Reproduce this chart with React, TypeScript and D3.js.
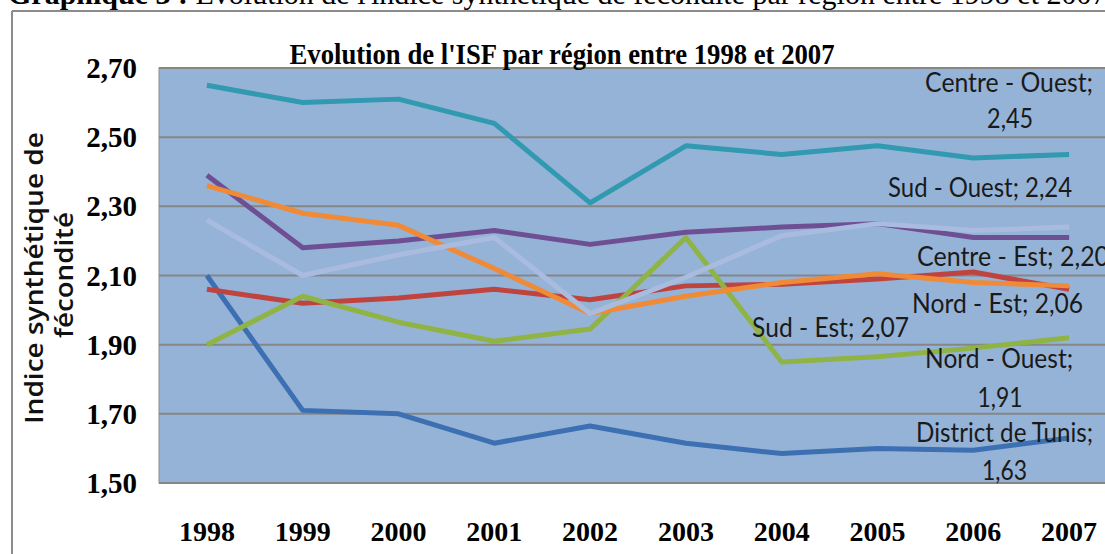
import * as d3 from "d3";
import React from "react";

// ISF by region, 1998-2007
const years = ["1998", "1999", "2000", "2001", "2002", "2003", "2004", "2005", "2006", "2007"];
const districtTunis = [2.1, 1.71, 1.7, 1.615, 1.665, 1.615, 1.585, 1.6, 1.595, 1.63];
const nordEst = [2.06, 2.02, 2.035, 2.06, 2.03, 2.07, 2.075, 2.09, 2.11, 2.06];
const nordOuest = [1.9, 2.04, 1.965, 1.91, 1.945, 2.21, 1.85, 1.865, 1.89, 1.92];
const centreEst = [2.39, 2.18, 2.2, 2.23, 2.19, 2.225, 2.24, 2.25, 2.21, 2.21];
const centreOuest = [2.65, 2.6, 2.61, 2.54, 2.31, 2.475, 2.45, 2.475, 2.44, 2.45];
const sudEst = [2.36, 2.28, 2.245, 2.12, 1.99, 2.04, 2.08, 2.105, 2.08, 2.07];
const sudOuest = [2.26, 2.1, 2.16, 2.21, 1.99, 2.095, 2.215, 2.25, 2.23, 2.24];
const yTicks = [1.5, 1.7, 1.9, 2.1, 2.3, 2.5, 2.7];

const series = [
  { name: "District de Tunis", values: districtTunis, color: "#3d70b2" },
  { name: "Nord - Est", values: nordEst, color: "#bf4440" },
  { name: "Nord - Ouest", values: nordOuest, color: "#8fb445" },
  { name: "Centre - Est", values: centreEst, color: "#6f4f93" },
  { name: "Centre - Ouest", values: centreOuest, color: "#3199b0" },
  { name: "Sud - Est", values: sudEst, color: "#f08a36" },
  { name: "Sud - Ouest", values: sudOuest, color: "#a9bcdf" },
];

// data labels, anchored on the 2007 point of each series
const labels = [
  { s: 4, lines: [["Centre  - Ouest;", -60, -62, 168], ["2,45", -59, -26, 46]], anchor: "middle" },
  { s: 6, lines: [["Sud - Ouest; 2,24", 3, -30, 184]], anchor: "end" },
  { s: 3, lines: [["Centre  - Est; 2,20", -152, 28.5, 192]], anchor: "start" },
  { s: 1, lines: [["Nord  - Est; 2,06", -157, 24, 171]], anchor: "start" },
  { s: 5, lines: [["Sud  - Est; 2,07", -160, 51, 157]], anchor: "end" },
  { s: 2, lines: [["Nord  - Ouest;", -70, 30, 148], ["1,91", -69, 69, 45]], anchor: "middle" },
  { s: 0, lines: [["District de Tunis;", -64.5, 4, 177], ["1,63", -64.5, 42, 45]], anchor: "middle" },
];

const W = 1105;
const H = 554;
const plot = { left: 159, right: 1117, top: 68, bottom: 483 };

export default function App() {
  const x = d3
    .scalePoint<string>()
    .domain(years)
    .range([plot.left, plot.right])
    .padding(0.5);
  const y = d3.scaleLinear().domain([1.5, 2.7]).range([plot.bottom, plot.top]);
  const line = d3
    .line<number>()
    .x((d, i) => x(years[i]) as number)
    .y((d) => y(d));
  const last = years[years.length - 1];

  return (
    <div style={{ position: "fixed", left: 0, top: 0 }}>
      <svg width={W} height={H} style={{ display: "block", background: "#fff" }}>
        {/* page caption, cut off at the top */}
        <text x={8} y={4} fontFamily="Liberation Serif" fontSize={30}>
          <tspan fontWeight="bold">Graphique 3 :</tspan> Evolution de l'indice synthétique de fécondité par région entre 1998 et 2007
        </text>
        {/* chart frame */}
        <line x1={12} x2={W} y1={11} y2={11} stroke="#8c8c8c" strokeWidth={2} />
        <line x1={12} x2={12} y1={11} y2={H} stroke="#8c8c8c" strokeWidth={2} />

        <rect
          x={plot.left}
          y={plot.top}
          width={plot.right - plot.left}
          height={plot.bottom - plot.top}
          fill="#95b3d7"
          stroke="#8c8c8c"
          strokeWidth={1}
        />
        {yTicks.map((t) => (
          <line
            key={t}
            x1={plot.left}
            x2={plot.right}
            y1={y(t)}
            y2={y(t)}
            stroke="#868686"
            strokeWidth={2}
          />
        ))}

        <text
          x={562}
          y={64}
          textAnchor="middle"
          fontFamily="Liberation Serif"
          fontWeight="bold"
          fontSize={30}
          textLength={545}
          lengthAdjust="spacingAndGlyphs"
        >
          Evolution de l'ISF par région entre 1998 et 2007
        </text>

        {yTicks.map((t) => (
          <text
            key={t}
            x={137}
            y={y(t)}
            dy="0.35em"
            textAnchor="end"
            fontFamily="Liberation Serif"
            fontWeight="bold"
            fontSize={29}
          >
            {d3.format(".2f")(t).replace(".", ",")}
          </text>
        ))}
        {years.map((yr) => (
          <text
            key={yr}
            x={x(yr)}
            y={541}
            textAnchor="middle"
            fontFamily="Liberation Serif"
            fontWeight="bold"
            fontSize={28}
          >
            {yr}
          </text>
        ))}

        <g transform="translate(34,278) rotate(-90)" fontFamily="Open Sans" fontWeight={600} fontSize={26} textAnchor="middle" fill="#111">
          <text x={0} y={0} dy="0.35em" textLength={292} lengthAdjust="spacingAndGlyphs">Indice synthétique de</text>
          <text x={3} y={30} dy="0.35em" textLength={126} lengthAdjust="spacingAndGlyphs">fécondité</text>
        </g>

        {series.map((s) => (
          <path
            key={s.name}
            d={line(s.values) as string}
            fill="none"
            stroke={s.color}
            strokeWidth={5}
            strokeLinejoin="round"
          />
        ))}

        {labels.map((l) =>
          l.lines.map(([txt, dx, dy, len]) => (
            <text
              key={txt as string}
              x={(x(last) as number) + (dx as number)}
              y={y(series[l.s].values[years.length - 1]) + (dy as number)}
              textAnchor={l.anchor}
              fontFamily="Lato"
              fontSize={26}
              fill="#1a1a1a"
              textLength={len as number}
              lengthAdjust="spacingAndGlyphs"
            >
              {txt as string}
            </text>
          ))
        )}
      </svg>
    </div>
  );
}
